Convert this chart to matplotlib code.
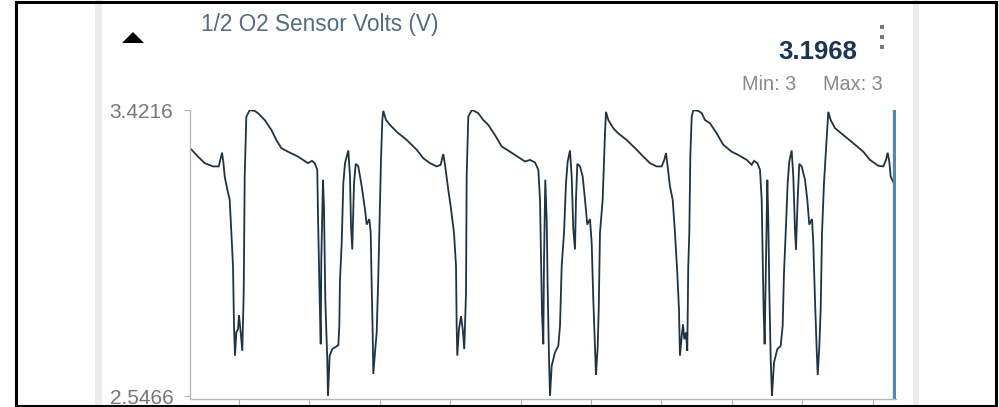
import matplotlib.pyplot as plt
from matplotlib.patches import Rectangle, Polygon

plt.rcParams['font.family'] = ['Liberation Sans', 'DejaVu Sans']

W, H = 999, 407

# sensor trace, time in seconds
time_s = [
    0.304, 0.418, 0.513, 0.631, 0.712, 0.734, 0.759, 0.777, 0.797, 0.834,
    0.868, 0.891, 0.915, 0.929, 0.943, 0.962, 0.986, 1.000, 1.024, 1.047,
    1.067, 1.081, 1.104, 1.152, 1.223, 1.270, 1.365, 1.459, 1.530, 1.601,
    1.696, 1.838, 1.909, 1.980, 2.037, 2.075, 2.112, 2.122, 2.146, 2.161,
    2.169, 2.193, 2.207, 2.226, 2.254, 2.264, 2.288, 2.325, 2.411, 2.425,
    2.435, 2.459, 2.482, 2.506, 2.553, 2.577, 2.591, 2.609, 2.634, 2.658,
    2.695, 2.743, 2.790, 2.814, 2.851, 2.871, 2.885, 2.899, 2.908, 2.932,
    2.956, 2.979, 3.003, 3.017, 3.036, 3.050, 3.088, 3.145, 3.240, 3.382,
    3.524, 3.618, 3.713, 3.808, 3.865, 3.902, 3.926, 3.973, 4.007, 4.054,
    4.083, 4.092, 4.101, 4.125, 4.154, 4.178, 4.200, 4.225, 4.234, 4.257,
    4.306, 4.328, 4.399, 4.470, 4.541, 4.636, 4.732, 4.850, 4.992, 5.063,
    5.134, 5.205, 5.252, 5.276, 5.290, 5.304, 5.323, 5.333, 5.351, 5.371,
    5.385, 5.404, 5.418, 5.442, 5.489, 5.536, 5.560, 5.584, 5.617, 5.645,
    5.669, 5.702, 5.726, 5.749, 5.773, 5.787, 5.806, 5.844, 5.882, 5.915,
    5.948, 5.986, 6.010, 6.033, 6.057, 6.071, 6.095, 6.110, 6.128, 6.166,
    6.185, 6.199, 6.213, 6.246, 6.317, 6.388, 6.507, 6.649, 6.743, 6.838,
    6.933, 7.004, 7.041, 7.066, 7.084, 7.122, 7.161, 7.193, 7.226, 7.250,
    7.264, 7.289, 7.307, 7.326, 7.350, 7.368, 7.382, 7.397, 7.411, 7.431,
    7.453, 7.524, 7.573, 7.620, 7.691, 7.786, 7.880, 7.999, 8.093, 8.212,
    8.283, 8.316, 8.363, 8.401, 8.425, 8.439, 8.453, 8.467, 8.486, 8.505,
    8.519, 8.533, 8.553, 8.571, 8.600, 8.647, 8.695, 8.723, 8.742, 8.770,
    8.794, 8.817, 8.851, 8.874, 8.898, 8.912, 8.936, 8.959, 8.993, 9.040,
    9.073, 9.101, 9.140, 9.158, 9.182, 9.206, 9.221, 9.243, 9.263, 9.282,
    9.310, 9.338, 9.371, 9.405, 9.466, 9.584, 9.726, 9.868, 9.963, 10.081,
    10.152, 10.191, 10.215, 10.238, 10.257, 10.286, 10.304,
]
volts = [
    3.305, 3.279, 3.259, 3.249, 3.249, 3.269, 3.291, 3.264, 3.218, 3.178,
    3.147, 3.047, 2.944, 2.761, 2.670, 2.742, 2.751, 2.794, 2.742, 2.685,
    2.864, 3.218, 3.401, 3.421, 3.419, 3.412, 3.391, 3.361, 3.330, 3.305,
    3.294, 3.279, 3.269, 3.259, 3.266, 3.259, 3.239, 3.101, 2.842, 2.705,
    2.964, 3.208, 3.127, 2.842, 2.659, 2.547, 2.670, 2.690, 2.702, 2.761,
    2.903, 3.015, 3.198, 3.259, 3.298, 3.218, 3.066, 2.995, 3.198, 3.257,
    3.249, 3.188, 3.117, 3.071, 3.088, 3.046, 2.883, 2.741, 2.614, 2.680,
    2.741, 2.913, 3.147, 3.269, 3.391, 3.419, 3.391, 3.376, 3.355, 3.330,
    3.300, 3.274, 3.259, 3.249, 3.254, 3.287, 3.254, 3.178, 3.127, 3.046,
    2.944, 2.761, 2.670, 2.751, 2.791, 2.751, 2.690, 2.863, 3.218, 3.401,
    3.421, 3.420, 3.412, 3.391, 3.376, 3.345, 3.310, 3.294, 3.274, 3.264,
    3.269, 3.261, 3.239, 3.147, 2.974, 2.802, 2.705, 2.964, 3.208, 3.086,
    2.873, 2.659, 2.547, 2.639, 2.680, 2.700, 2.761, 2.944, 3.046, 3.198,
    3.264, 3.298, 3.218, 3.056, 2.995, 3.147, 3.257, 3.249, 3.218, 3.147,
    3.071, 3.088, 3.015, 2.842, 2.690, 2.611, 2.695, 2.812, 3.046, 3.147,
    3.269, 3.350, 3.416, 3.391, 3.366, 3.350, 3.330, 3.300, 3.279, 3.259,
    3.249, 3.249, 3.269, 3.290, 3.259, 3.188, 3.147, 3.046, 2.924, 2.812,
    2.670, 2.730, 2.766, 2.720, 2.741, 2.685, 2.944, 3.046, 3.279, 3.401,
    3.421, 3.419, 3.412, 3.391, 3.381, 3.350, 3.315, 3.294, 3.284, 3.269,
    3.254, 3.266, 3.259, 3.239, 3.147, 2.974, 2.802, 2.705, 2.964, 3.208,
    3.086, 2.873, 2.659, 2.547, 2.649, 2.690, 2.700, 2.761, 2.924, 3.066,
    3.198, 3.264, 3.298, 3.218, 3.056, 2.995, 3.147, 3.257, 3.249, 3.208,
    3.147, 3.071, 3.088, 3.015, 2.842, 2.690, 2.611, 2.695, 2.812, 3.046,
    3.198, 3.300, 3.416, 3.391, 3.366, 3.345, 3.320, 3.294, 3.269, 3.251,
    3.249, 3.269, 3.291, 3.264, 3.218, 3.205, 3.1968,
]
x_ticks = [1, 2, 3, 4, 5, 6, 7, 8, 9, 10]
v_min, v_max = 2.5466, 3.4216
t_start, t_end = 0.304, 10.333
title = "1/2 O2 Sensor Volts (V)"
min_label, max_label = "Min: 3", "Max: 3"


def fx(x):
    return x / W


def fy(y):
    return 1 - y / H


fig = plt.figure(figsize=(W / 100, H / 100), dpi=100)
fig.patch.set_facecolor('white')

# card edges
for x0, x1 in [(95, 102), (913, 919)]:
    fig.add_artist(Rectangle((fx(x0), 0), fx(x1 - x0), 1, transform=fig.transFigure,
                             facecolor='#ececec', edgecolor='none', zorder=0))

ax = fig.add_axes([fx(190), fy(399), fx(896 - 190), (399 - 110) / H])
ax.plot(time_s, volts, color='#1e3344', lw=1.3, solid_joinstyle='miter')
ax.axvline(time_s[-1], color='#5a86aa', lw=2.4, ymin=0.0, ymax=1.0)

pad = (v_max - v_min) * 3 / 286
ax.set_ylim(v_min - pad, v_max)
ax.set_xlim(t_start, t_end)
ax.set_yticks([v_max, v_min])
ax.set_yticklabels([f"{v_max:.4f}", f"{v_min:.4f}"])
ax.set_xticks(x_ticks)
ax.set_xticklabels([])
ax.tick_params(axis='y', length=4, pad=8, colors='#b0b0b0', labelcolor='#777777', labelsize=15)
ax.tick_params(axis='x', length=7, color='#b0b0b0')
for side in ['top', 'right']:
    ax.spines[side].set_visible(False)
for side in ['left', 'bottom']:
    ax.spines[side].set_color('#b8b8b8')
    ax.spines[side].set_linewidth(1.0)

# header
fig.text(fx(201), fy(24), title, color='#536c83', fontsize=16.3, va='center', ha='left')
fig.add_artist(Polygon([[fx(122), fy(43)], [fx(144), fy(43)], [fx(133), fy(32)]],
                       closed=True, transform=fig.transFigure, facecolor='black',
                       edgecolor='none'))
fig.text(fx(857), fy(52), f"{volts[-1]:.4f}", color='#1c3552', fontsize=18.5,
         fontweight='bold', va='center', ha='right')
fig.text(fx(796), fy(84), min_label, color='#888888', fontsize=14.3, va='center', ha='right')
fig.text(fx(883), fy(84), max_label, color='#888888', fontsize=14.3, va='center', ha='right')
for yd in [27, 37, 47]:
    fig.add_artist(Rectangle((fx(880), fy(yd + 2)), fx(4), 4 / H, transform=fig.transFigure,
                             facecolor='#7a7a7a', edgecolor='none'))

# outer frame
fig.add_artist(Rectangle((fx(16), fy(405.5)), fx(996 - 16), (405.5 - 1.5) / H,
                         transform=fig.transFigure, facecolor='none',
                         edgecolor='black', lw=2.2))

fig.savefig('out.png', dpi=100)
